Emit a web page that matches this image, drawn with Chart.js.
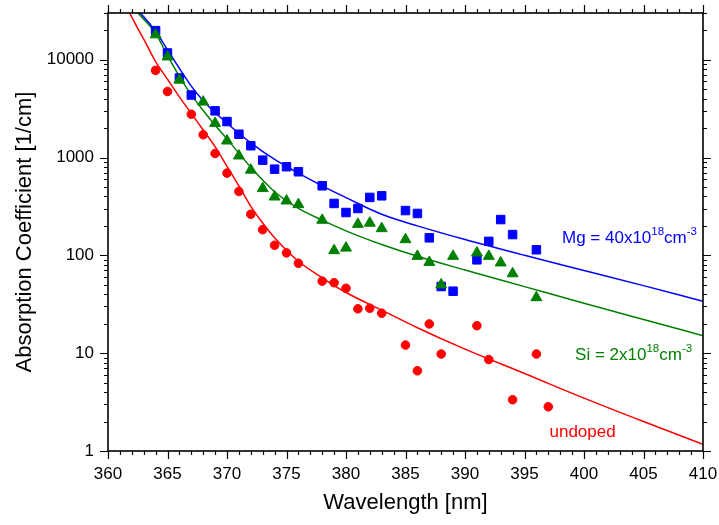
<!DOCTYPE html>
<html>
<head>
<meta charset="utf-8">
<script src="https://cdn.jsdelivr.net/npm/chart.js@4.4.0/dist/chart.umd.min.js"></script>
<style>
  html, body { margin: 0; padding: 0; background: #fff; }
</style>
</head>
<body>
<canvas id="chart" width="719" height="525"></canvas>
<script>
// measured points (wavelength in nm, absorption in 1/cm)
const mgWave = [364, 365, 366, 367, 369, 370, 371, 372, 373, 374, 375, 376, 378, 379, 380, 381, 382, 383, 385, 386, 387, 388, 389, 391, 392, 393, 394, 396];
const mgAbs = [19800, 11700, 6490, 4350, 3000, 2330, 1730, 1320, 940, 760, 805, 715, 514, 339, 274, 301, 391, 406, 287, 268, 151, 48, 43, 90, 139, 232, 163, 114];

const siWave = [364, 365, 366, 368, 369, 370, 371, 372, 373, 374, 375, 376, 378, 379, 380, 381, 382, 383, 385, 386, 387, 388, 389, 391, 392, 393, 394, 396];
const siAbs = [18000, 10700, 6200, 3700, 2240, 1480, 1040, 745, 483, 396, 361, 331, 229, 112, 119, 208, 214, 188, 145, 98, 85, 50, 98, 106, 98, 84, 65, 37];

const undWave = [364, 365, 367, 368, 369, 370, 371, 372, 373, 374, 375, 376, 378, 379, 380, 381, 382, 383, 385, 386, 387, 388, 391, 392, 394, 396, 397];
const undAbs = [7770, 4730, 2770, 1710, 1100, 693, 450, 263, 183, 127, 106, 83, 54.5, 52.5, 46, 28.4, 28.8, 25.6, 12.1, 6.6, 19.9, 9.8, 19.1, 8.6, 3.34, 9.8, 2.83];

// fit curves
const mgFitWave = [362.5, 363, 364, 365, 366, 367, 368, 369, 370, 372, 374, 376, 378, 380, 383, 386, 390, 395, 400, 405, 410];
const mgFitAbs = [31600, 27500, 19500, 12600, 8130, 5370, 3800, 2880, 2240, 1410, 955, 692, 513, 389, 263, 200, 145, 100, 70, 49, 33.9];

const siFitWave = [362.5, 364, 365, 366, 367, 368, 369, 370, 372, 374, 376, 378, 380, 383, 386, 390, 395, 400, 405, 410];
const siFitAbs = [30200, 18600, 11000, 6760, 4370, 3020, 2140, 1550, 794, 447, 302, 229, 178, 129, 97.7, 70.8, 47.9, 32.4, 22.1, 15.1];

const undFitWave = [361.5, 362.5, 363, 364, 365, 366, 367, 368, 369, 370, 371, 372, 373, 374, 376, 378, 380, 383, 386, 390, 395, 400, 405, 410];
const undFitAbs = [35500, 20900, 16200, 9550, 6310, 4170, 2820, 1910, 1290, 813, 513, 316, 214, 151, 87, 59, 41.7, 27.5, 18.2, 11.0, 6.2, 3.47, 2.0, 1.17];

const yLabels = [1, 10, 100, 1000, 10000];

const BLUE = "#0000ff";
const GREEN = "#008000";
const RED = "#ff0000";
const FONT = "'Liberation Sans', Arial, sans-serif";

Chart.defaults.font.family = FONT;
Chart.defaults.color = "#000";

const pts = (xs, ys) => xs.map((x, i) => ({ x: x, y: ys[i] }));

const lineSet = (xs, ys, color) => ({
  data: pts(xs, ys),
  showLine: true,
  borderColor: color,
  borderWidth: 1.5,
  pointRadius: 0,
  cubicInterpolationMode: "monotone",
  order: 10,
});

const pointSet = (xs, ys, color, style, radius, order) => ({
  data: pts(xs, ys),
  showLine: false,
  backgroundColor: color,
  borderColor: color,
  borderWidth: 1,
  pointStyle: style,
  pointRadius: radius,
  order: order,
});

// frame with outward ticks on all four sides
const frameTicks = {
  id: "frameTicks",
  afterDraw(chart) {
    const { ctx, chartArea: a } = chart;
    const x = chart.scales.x;
    const y = chart.scales.y;
    ctx.save();
    ctx.strokeStyle = "#000";
    ctx.lineWidth = 1.2;
    ctx.beginPath();
    for (let w = 360; w <= 410; w++) {
      const px = Math.round(x.getPixelForValue(w)) + 0.5;
      const len = w % 5 === 0 ? 8 : 4;
      ctx.moveTo(px, a.bottom);
      ctx.lineTo(px, a.bottom + len);
      ctx.moveTo(px, a.top);
      ctx.lineTo(px, a.top - len);
    }
    for (let d = 1; d <= 10000; d *= 10) {
      for (let m = 1; m <= 9; m++) {
        const v = d * m;
        if (v > 30000) break;
        const py = Math.round(y.getPixelForValue(v)) + 0.5;
        const len = m === 1 ? 8 : 4;
        ctx.moveTo(a.left, py);
        ctx.lineTo(a.left - len, py);
        ctx.moveTo(a.right, py);
        ctx.lineTo(a.right + len, py);
      }
    }
    ctx.stroke();
    ctx.lineWidth = 1.6;
    ctx.strokeRect(a.left, a.top, a.right - a.left, a.bottom - a.top);
    ctx.restore();
  },
};

const drawRich = (ctx, parts, x0, y0, color) => {
  ctx.fillStyle = color;
  ctx.textBaseline = "alphabetic";
  ctx.textAlign = "left";
  let cx = x0;
  parts.forEach(([text, sup]) => {
    ctx.font = (sup ? "11.5px " : "17px ") + FONT;
    ctx.fillText(text, cx, sup ? y0 - 8 : y0);
    cx += ctx.measureText(text).width;
  });
};

const curveLabels = {
  id: "curveLabels",
  afterDatasetsDraw(chart) {
    const { ctx } = chart;
    const x = chart.scales.x;
    const y = chart.scales.y;
    ctx.save();
    drawRich(ctx, [["Mg = 40x10", false], ["18", true], ["cm", false], ["-3", true]],
      x.getPixelForValue(398.15), y.getPixelForValue(153) + 6, BLUE);
    drawRich(ctx, [["Si = 2x10", false], ["18", true], ["cm", false], ["-3", true]],
      x.getPixelForValue(399.25), y.getPixelForValue(9.9) + 6, GREEN);
    drawRich(ctx, [["undoped", false]],
      x.getPixelForValue(397.1), y.getPixelForValue(1.6) + 6, RED);
    ctx.restore();
  },
};

const noPad = (s) => {
  s.paddingTop = 0;
  s.paddingBottom = 0;
  s.paddingLeft = 0;
  s.paddingRight = 0;
};

new Chart(document.getElementById("chart"), {
  type: "scatter",
  data: {
    datasets: [
      pointSet(siWave, siAbs, GREEN, "triangle", 6.3, 1),
      pointSet(mgWave, mgAbs, BLUE, "rect", 6, 2),
      pointSet(undWave, undAbs, RED, "circle", 4.3, 3),
      lineSet(mgFitWave, mgFitAbs, BLUE),
      lineSet(siFitWave, siFitAbs, GREEN),
      lineSet(undFitWave, undFitAbs, RED),
    ],
  },
  options: {
    responsive: false,
    animation: false,
    devicePixelRatio: 1,
    layout: { padding: { top: 13, right: 16, bottom: 0, left: 0 }, autoPadding: false },
    plugins: {
      legend: { display: false },
      tooltip: { enabled: false },
    },
    scales: {
      x: {
        type: "linear",
        min: 360,
        max: 410,
        grid: { display: false, drawTicks: false },
        border: { display: false },
        ticks: { stepSize: 5, padding: 13, font: { size: 17 }, color: "#000", maxRotation: 0 },
        title: { display: true, text: "Wavelength [nm]", font: { size: 22 }, color: "#000", padding: { top: 0, bottom: 9 } },
        afterFit: (s) => { s.height = 74; noPad(s); },
      },
      y: {
        type: "logarithmic",
        min: 1,
        max: 30000,
        grid: { display: false, drawTicks: false },
        border: { display: false },
        ticks: {
          autoSkip: false,
          padding: 14,
          font: { size: 17 },
          color: "#000",
          callback: (v) => (yLabels.includes(v) ? String(v) : null),
        },
        title: { display: true, text: "Absorption Coefficient [1/cm]", font: { size: 22 }, color: "#000", padding: { top: 12, bottom: 0 } },
        afterFit: (s) => { s.width = 108; noPad(s); },
      },
    },
  },
  plugins: [frameTicks, curveLabels],
});
</script>
</body>
</html>
